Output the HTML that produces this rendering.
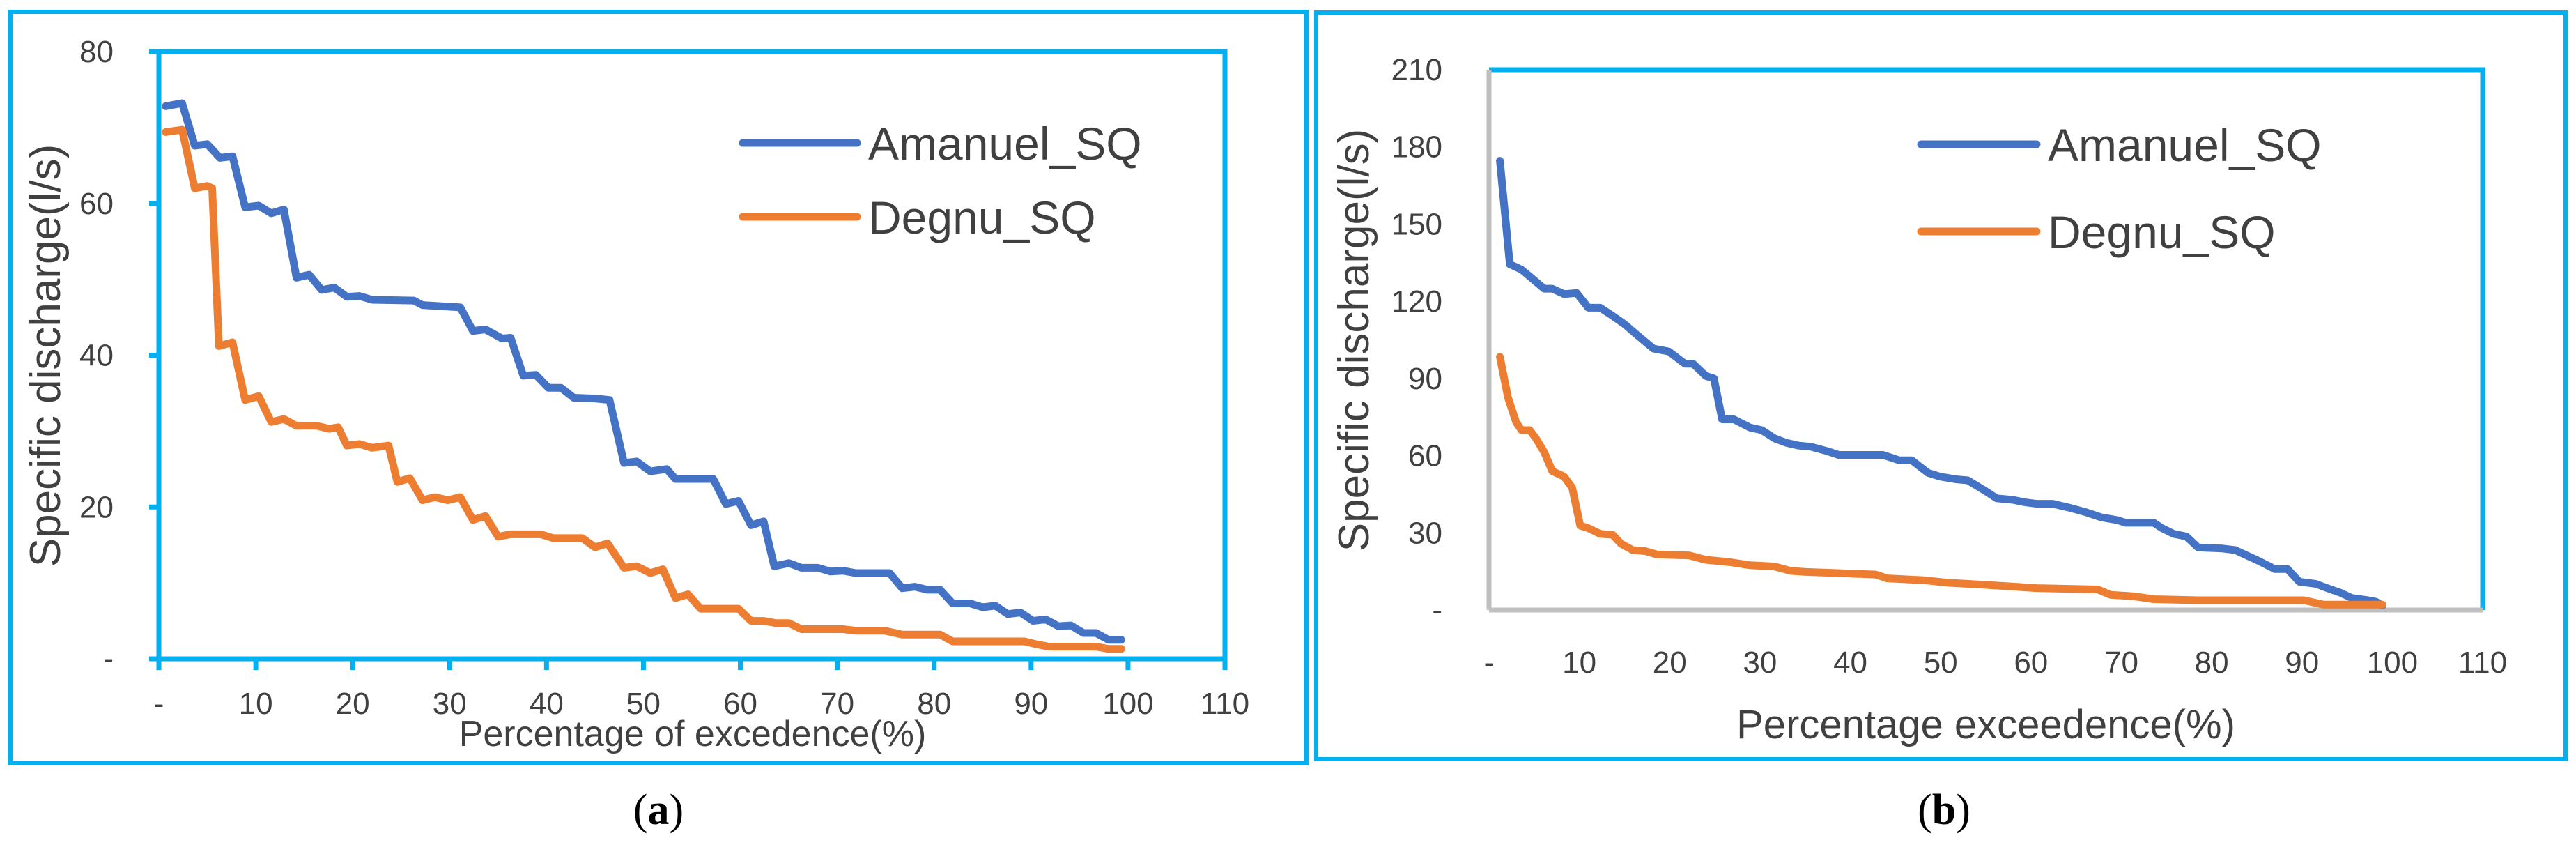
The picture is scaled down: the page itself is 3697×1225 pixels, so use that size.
<!DOCTYPE html>
<html><head><meta charset="utf-8"><style>
html,body{margin:0;padding:0;background:#fff;}
svg{display:block;}
text{font-family:"Liberation Sans",sans-serif;}
</style></head><body>
<svg id="fig" width="3697" height="1225" viewBox="0 0 3697 1225" xmlns="http://www.w3.org/2000/svg">
<rect x="15" y="17" width="1860" height="1078" fill="none" stroke="#00b0f0" stroke-width="6"/>
<rect x="1889" y="18" width="1793" height="1071" fill="none" stroke="#00b0f0" stroke-width="6"/>
<text x="945" y="1182" font-size="62" text-anchor="middle" style="font-family:'Liberation Serif',serif">(<tspan font-weight="bold">a</tspan>)</text>
<text x="2790" y="1182" font-size="62" text-anchor="middle" style="font-family:'Liberation Serif',serif">(<tspan font-weight="bold">b</tspan>)</text>
<g id="chartA"></g>
<g id="chartB"></g>
</svg>
<script>
const xTicks=[0,10,20,30,40,50,60,70,80,90,100,110];
const xTickLabels=['-','10','20','30','40','50','60','70','80','90','100','110'];
const yTicksA=[0,20,40,60,80];
const yTickLabelsA=['-','20','40','60','80'];
const yTicksB=[0,30,60,90,120,150,180,210];
const yTickLabelsB=['-','30','60','90','120','150','180','210'];
const seriesNames=['Amanuel_SQ','Degnu_SQ'];
const aAmanX=[0.7,2.4,3.7,5,6.3,7.6,8.9,10.3,11.6,12.9,14.2,15.5,16.8,18.1,19.4,20.7,22,26.3,27.2,29.8,31.1,32.4,33.7,35.4,36.3,37.6,38.9,40.2,41.5,42.8,45,46.5,48,49.3,50.7,52.4,53.3,55.9,57.2,58.5,59.8,61.1,62.4,63.5,65,66.3,68,69.3,70.6,71.9,75.4,76.7,78,79.3,80.6,81.9,83.7,85,86.3,87.6,88.9,90.2,91.5,92.8,94.1,95.4,96.7,98,99.3];
const aAmanY=[72.8,73.2,67.6,67.8,66,66.2,59.5,59.7,58.7,59.2,50.2,50.6,48.6,48.9,47.7,47.8,47.3,47.2,46.6,46.4,46.3,43.2,43.4,42.2,42.3,37.3,37.4,35.7,35.7,34.4,34.3,34.1,25.8,26,24.7,25,23.7,23.7,23.7,20.4,20.8,17.6,18.1,12.2,12.6,12,12,11.5,11.6,11.3,11.3,9.3,9.5,9.1,9.1,7.3,7.3,6.8,7,5.9,6.1,5,5.2,4.3,4.4,3.4,3.4,2.5,2.5];
const aDegX=[0.7,2.4,3.7,5,5.5,6.2,7.6,8.9,10.3,11.6,12.9,14.2,16.3,17.6,18.5,19.4,20.7,22,23.7,24.6,25.9,27.2,28.5,29.8,31.1,32.4,33.7,35,36.3,39.4,40.7,43.7,45,46.3,48,49.3,50.7,52,53.3,54.6,55.9,59.8,61.1,62.4,63.7,65,66.3,70.6,71.9,74.9,76.7,80.6,81.9,89.3,90.6,91.9,96.7,98,99.3];
const aDegY=[69.4,69.7,62,62.3,62,41.2,41.7,34.1,34.6,31.2,31.6,30.7,30.7,30.3,30.5,28.1,28.3,27.8,28.1,23.3,23.8,20.9,21.3,20.9,21.3,18.3,18.8,16.1,16.4,16.4,15.9,15.9,14.7,15.2,12,12.2,11.3,11.8,8,8.5,6.6,6.6,5,5,4.7,4.7,3.9,3.9,3.7,3.7,3.2,3.2,2.3,2.3,1.9,1.6,1.6,1.3,1.3];
const bAmanX=[1.2,2.3,3.6,4.7,6.1,7,8.3,9.7,11,12.3,13.7,15,16.4,18.2,19.9,21.7,22.6,24,24.9,25.8,27.1,28.9,30.2,31.6,32.9,34.3,35.6,37.4,38.7,43.6,45.4,46.8,48.6,49.9,51.7,53,54.8,56.2,58,59.3,60.6,62.4,64.2,66,67.8,69.6,70.5,73.6,74.5,75.8,77.2,78.5,81.2,82.6,83.9,85.2,87,88.4,89.7,91.5,92.8,94.2,95.5,97.3,98.2,98.9];
const bAmanY=[174.6,134.4,132.3,129.1,124.9,124.9,122.8,123.2,117.5,117.5,114.3,111.1,106.9,101.6,100.5,95.7,95.7,91,90,74.1,74.1,70.9,69.9,66.7,65,63.9,63.5,61.8,60.3,60.3,58.2,58.2,53.3,51.9,50.8,50.4,46.6,43.4,42.8,41.9,41.3,41.3,39.8,38.1,36,34.9,33.9,33.9,31.8,29.6,28.6,24.3,23.9,23.3,21.2,19.1,15.9,15.9,11,10.2,8.5,6.8,4.7,3.8,3.2,1.7];
const bDegX=[1.2,2.1,3,3.6,4.5,5.2,6.1,7,8.3,9.2,10.1,11,12.3,13.7,14.6,15.9,17.3,18.6,22.2,24,26.7,28.9,31.6,33.4,35.1,38.3,42.8,44.1,48.1,50.8,54.4,58,60.6,67.4,68.8,71.4,73.6,78.5,90.2,92.4,98.9];
const bDegY=[98.4,82.6,73,69.9,69.9,66.7,61.4,54,51.9,47.6,32.8,31.8,29.6,29.2,25.8,23.3,22.9,21.6,21.2,19.5,18.6,17.4,16.9,15.2,14.8,14.4,13.8,12.3,11.6,10.6,9.9,9.1,8.5,8,5.9,5.3,4.2,3.8,3.8,2.1,2.1];

const NS='http://www.w3.org/2000/svg';
function mk(parent,tag,attrs,txt){const e=document.createElementNS(NS,tag);for(const k in attrs)e.setAttribute(k,attrs[k]);if(txt!==undefined)e.textContent=txt;parent.appendChild(e);return e;}

function drawChart(g,cfg){
  const sx=v=>cfg.x0+(v/110)*(cfg.x1-cfg.x0);
  const sy=v=>cfg.yb-(v/cfg.ymax)*(cfg.yb-cfg.yt);
  let fr=mk(g,'path',{d:`M${cfg.x0},${cfg.yt} H${cfg.x1} V${cfg.yb}`,fill:'none',stroke:'#00b0f0','stroke-width':7});
  
  
  let xa=mk(g,'line',{x1:cfg.x0-(cfg.ticks?14:0),y1:cfg.yb,x2:cfg.x1,y2:cfg.yb,stroke:cfg.axisColor,'stroke-width':7});
  
  
  let ya=mk(g,'line',{x1:cfg.x0,y1:cfg.yt,x2:cfg.x0,y2:cfg.yb+(cfg.ticks?16:0),stroke:cfg.axisColor,'stroke-width':7});
  
  
  xTicks.forEach((t,i)=>{
    if(cfg.ticks){let tk=mk(g,'line',{x1:sx(t),y1:cfg.yb,x2:sx(t),y2:cfg.yb+16,stroke:cfg.axisColor,'stroke-width':7});
      
      }
    let tl=mk(g,'text',{x:sx(t),y:cfg.xLabY,'font-size':44,fill:'#404040','text-anchor':'middle'},xTickLabels[i]);
    
    
  });
  cfg.yTicks.forEach((t,i)=>{
    if(cfg.ticks){let tk=mk(g,'line',{x1:cfg.x0-14,y1:sy(t),x2:cfg.x0,y2:sy(t),stroke:cfg.axisColor,'stroke-width':7});
      
      }
    let tl=mk(g,'text',{x:cfg.yLabX,y:sy(t)+15,'font-size':44,fill:'#404040','text-anchor':'end'},cfg.yLabels[i]);
    
    
  });
  let xt=mk(g,'text',{x:cfg.xTitleX,y:cfg.xTitleY,'font-size':cfg.xTitleSize,fill:'#404040','text-anchor':'middle'},cfg.xTitle);
  
  
  let yt=mk(g,'text',{x:0,y:0,'font-size':62,fill:'#404040','text-anchor':'middle',transform:`translate(${cfg.yTitleX},${cfg.yTitleY}) rotate(-90)`},'Specific discharge(l/s)');
  
  
  const colors=['#4472c4','#ed7d31'];
  cfg.series.forEach((s,k)=>{
    const d=s[0].map((x,i)=>(i?'L':'M')+sx(x).toFixed(1)+','+sy(s[1][i]).toFixed(1)).join(' ');
    let p=mk(g,'path',{d:d,fill:'none',stroke:colors[k],'stroke-width':11,'stroke-linejoin':'round','stroke-linecap':'round'});
    
    
    const ly=cfg.legY[k];
    let ll=mk(g,'line',{x1:cfg.legX,y1:ly,x2:cfg.legX+cfg.legW,y2:ly,stroke:colors[k],'stroke-width':11,'stroke-linecap':'round'});
    
    
    let lt=mk(g,'text',{x:cfg.legX+cfg.legW+16,y:ly+24,'font-size':66,fill:'#404040'},seriesNames[k]);
    
    
  });
}
drawChart(document.getElementById('chartA'),{x0:228,x1:1758,yt:74,yb:945,ymax:80,yTicks:yTicksA,yLabels:yTickLabelsA,
  axisColor:'#00b0f0',ticks:true,xLabY:1024,yLabX:163,xTitle:'Percentage of excedence(%)',xTitleX:994,xTitleY:1070,xTitleSize:52,
  yTitleX:86,yTitleY:510,legX:1066,legW:164,legY:[205,311],series:[[aAmanX,aAmanY],[aDegX,aDegY]]});
drawChart(document.getElementById('chartB'),{x0:2137,x1:3563,yt:100,yb:875,ymax:210,yTicks:yTicksB,yLabels:yTickLabelsB,
  axisColor:'#bfbfbf',ticks:false,xLabY:965,yLabX:2070,xTitle:'Percentage exceedence(%)',xTitleX:2850,xTitleY:1059,xTitleSize:58,
  yTitleX:1964,yTitleY:488,legX:2757,legW:166,legY:[207,332],series:[[bAmanX,bAmanY],[bDegX,bDegY]]});
</script>
</body></html>
